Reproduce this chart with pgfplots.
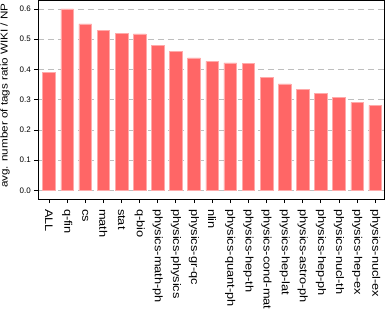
\documentclass[border=0pt]{standalone}
\usepackage{pgfplots}
\pgfplotsset{compat=1.18}
\usepackage{fontspec}
\setmainfont{Liberation Sans}
\newfontfamily\widefont[FakeStretch=1.17]{Liberation Sans}
\definecolor{barred}{RGB}{255,102,102}
\definecolor{baredge}{RGB}{255,170,170}
\definecolor{gridgray}{RGB}{190,190,190}
\begin{document}
\begin{tikzpicture}
\useasboundingbox (-38.3bp,-111bp) rectangle (349.7bp,199bp);
\begin{axis}[
  scale only axis,
  width=346bp, height=198.8bp,
  xmin=-0.59, xmax=18.5,
  ymin=-0.0284, ymax=0.629,
  ytick={0,0.1,0.2,0.3,0.4,0.5,0.6},
  /pgf/number format/fixed,
  /pgf/number format/fixed zerofill,
  /pgf/number format/precision=1,
  /pgf/number format/assume math mode=true,
  xtick={0,...,18},
  xticklabels={ALL,q-fin,cs,math,stat,q-bio,physics-math-ph,physics-physics,physics-gr-qc,nlin,physics-quant-ph,physics-hep-th,physics-cond-mat,physics-hep-lat,physics-astro-ph,physics-hep-ph,physics-nucl-th,physics-hep-ex,physics-nucl-ex},
  xticklabel style={rotate=-90, anchor=west, xshift=2.5bp, font=\widefont\fontsize{11}{12}\selectfont},
  yticklabel style={font=\fontsize{8}{9}\selectfont},
  tick align=outside,
  tick pos=left,
  major tick length=4bp,
  axis line style={draw=black, line width=0.8pt},
  major tick style={draw=black, line width=0.8pt},
  ymajorgrids,
  grid style={gridgray, dash pattern=on 6bp off 4bp, line width=0.8pt},
  ylabel={avg. number of tags ratio WIKI / NP},
  ylabel style={at={(axis description cs:-0.0962,0.52)}, anchor=center, font=\widefont\fontsize{10}{11}\selectfont},
]
\addplot[ybar, bar width=0.7, fill=barred, draw=baredge, line width=0.5pt] coordinates {
(0,0.390) (1,0.600) (2,0.551) (3,0.529) (4,0.519) (5,0.518) (6,0.479) (7,0.461) (8,0.438)
(9,0.427) (10,0.422) (11,0.420) (12,0.373) (13,0.352) (14,0.335) (15,0.321) (16,0.308) (17,0.291) (18,0.281)
};
\end{axis}
\end{tikzpicture}
\end{document}
